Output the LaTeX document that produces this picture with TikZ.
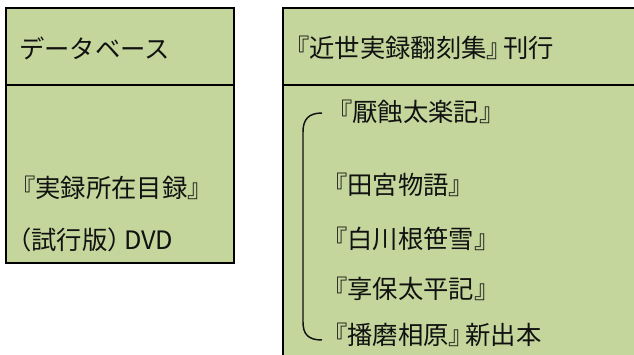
\documentclass[tikz,border=0pt]{standalone}
\usepackage{fontspec}
\setmainfont{Noto Sans CJK JP}
\definecolor{boxgreen}{HTML}{C4D69B}
\definecolor{ink}{HTML}{111111}
\newcommand{\tightk}{\kern-0.35em}
\begin{document}
\begin{tikzpicture}[x=0.75pt,y=-0.75pt,
  box/.style={draw=black, line width=1.9pt, fill=boxgreen, rectangle, inner sep=0pt, outer sep=0pt, anchor=north west},
  lbl/.style={anchor=west, inner sep=0pt, text=ink, font=\fontsize{19pt}{22pt}\selectfont},
  divider/.style={draw=black, line width=1.9pt},
  brace/.style={draw=ink, line width=1.1pt}]
\useasboundingbox (0,0) rectangle (634,354);
\clip (0,0) rectangle (634,354);
% boxes
\node[box, minimum width=171pt, minimum height=191.25pt] (left) at (6,8) {};
\node[box, minimum width=282.75pt, minimum height=279pt] (right) at (283,8) {};
% dividers
\coordinate (ldl) at (6,85);
\coordinate (ldr) at (234,85);
\coordinate (rdl) at (283,85);
\coordinate (rdr) at (660,85);
\draw[divider] (ldl) -- (ldr);
\draw[divider] (rdl) -- (rdr);
% left texts
\node[lbl] (db) at (19,48) {データベース};
\node[lbl] (mokuroku) at (10,188) {『実録所在目録』};
\node[lbl] (dvd) at (6,240) {（試行版）\tightk DVD};
% right texts
\node[lbl] (honkoku) at (284,48) {『近世実録翻刻集』\tightk 刊行};
\node[lbl] (t1) at (327,112) {『厭蝕太楽記』};
\node[lbl] (t2) at (322,185) {『田宮物語』};
\node[lbl] (t3) at (322,239) {『白川根笹雪』};
\node[lbl] (t4) at (322,289) {『享保太平記』};
\node[lbl] (t5) at (322,335) {『播磨相原』\tightk 新出本};
% bracket
\coordinate (bt) at (322,113);
\coordinate (bb) at (322,340);
\draw[brace] (bt) .. controls (308,113) and (303,120) .. (303,132) -- (303,322) .. controls (303,334) and (308,340) .. (bb);
\end{tikzpicture}
\end{document}
